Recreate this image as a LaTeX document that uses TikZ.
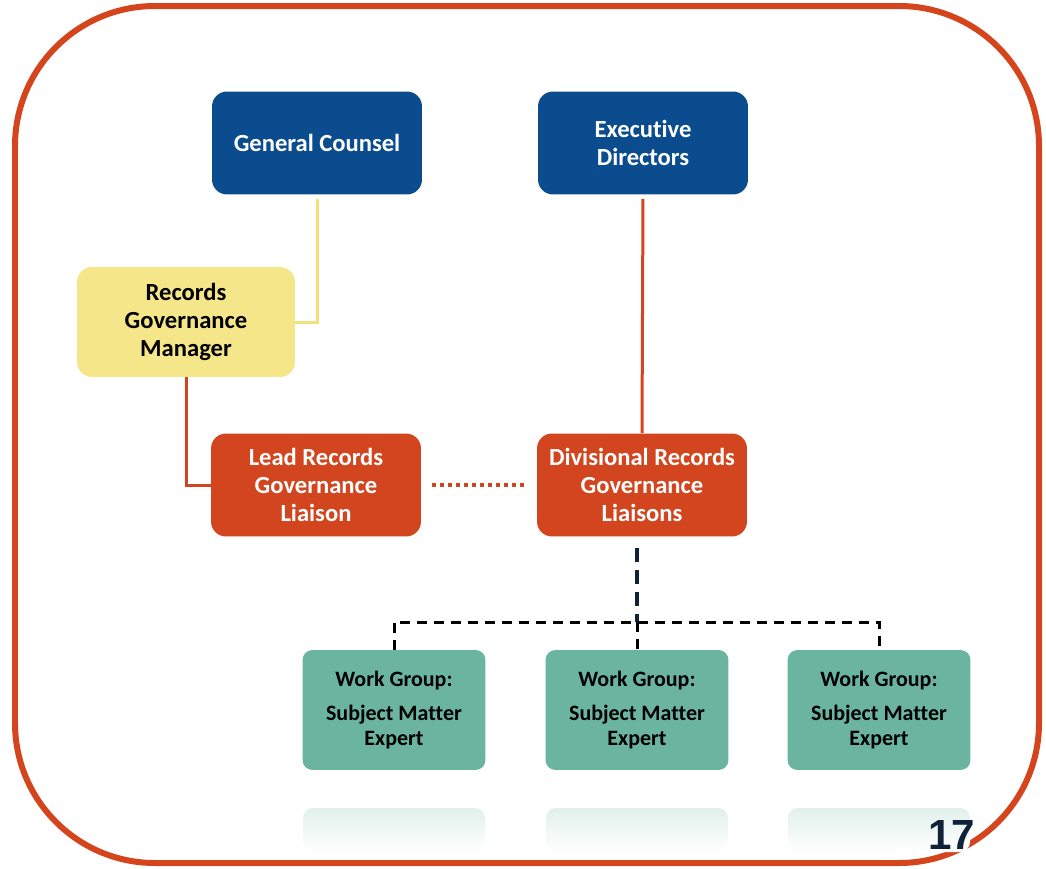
\documentclass[tikz,border=0pt]{standalone}
\usepackage{fontspec}
\setmainfont{Carlito}[Ligatures=NoCommon]
\newfontfamily\numfont{Liberation Sans}
\usepackage{xcolor}
\definecolor{govBlue}{HTML}{0B4C8E}
\definecolor{govYellow}{HTML}{F6E68A}
\definecolor{govYellowLine}{HTML}{F4E07A}
\definecolor{govRed}{HTML}{D2451E}
\definecolor{govTeal}{HTML}{6AB4A0}
\definecolor{govNavy}{HTML}{0F2238}
\definecolor{govFrame}{HTML}{D4451E}
\usepackage{tikz}
\usetikzlibrary{positioning}

\begin{document}
\begin{tikzpicture}[
		x=0.02cm, y=-0.02cm,
		box/.style={
			rounded corners=0.3cm,
			minimum width=4.2cm,
			minimum height=2.06cm,
			align=center,
			font=\fontsize{14}{16}\selectfont\bfseries
		},
		wgbox/.style={
			box,
			fill=govTeal,
			minimum width=3.66cm,
			minimum height=2.4cm,
			rounded corners=0.2cm,
			font=\fontsize{12.5}{14.2}\selectfont\bfseries
		},
		yline/.style={draw=govYellowLine, line width=0.06cm},
		rline/.style={draw=govRed, line width=0.06cm},
		dotline/.style={draw=govRed, line width=0.07cm, dash pattern=on 0.08cm off 0.08cm},
		navydash/.style={draw=govNavy, line width=0.08cm, dash pattern=on 0.28cm off 0.16cm},
		bkdash/.style={draw=black, line width=0.06cm, dash pattern=on 0.2cm off 0.14cm}
		]
		
		\useasboundingbox (0,0) rectangle (1046,869);
		\draw[govFrame, line width=0.12cm, rounded corners=2.8cm] (15,6) rectangle (1039,863);
		
		\node[box, fill=govBlue, text=white] (counsel) at (317,143) {General Counsel};
		\node[box, fill=govBlue, text=white] (exec) at (643,143) {Executive\\Directors};
		\node[box, fill=govYellow, minimum width=4.36cm, minimum height=2.2cm] (rgm) at (186,322) {Records\\Governance\\Manager};
		\node[box, fill=govRed, text=white] (lead) at (316,485) {Lead Records\\Governance\\Liaison};
		\node[box, fill=govRed, text=white] (div) at (642,485) {Divisional Records\\Governance\\Liaisons};
		
		\node[wgbox] (wg1) at (394,710) {Work Group:\\[5pt]Subject Matter\\Expert};
		\node[wgbox] (wg2) at (637,710) {Work Group:\\[5pt]Subject Matter\\Expert};
		\node[wgbox] (wg3) at (879,710) {Work Group:\\[5pt]Subject Matter\\Expert};
		
		% faint reflections below the work groups
		\foreach \cx in {394,637,879}
			\shade[top color=govTeal!20, bottom color=white, rounded corners=0.2cm] (\cx-91,808) rectangle (\cx+91,852);
		
		\coordinate (bus) at (637,622);
		
		\draw[yline, shorten <=0.08cm] (counsel.south) |- (rgm.east);
		\draw[rline, shorten <=0.08cm] (exec.south) -- (div.north);
		\draw[rline] (rgm.south) |- (lead.west);
		\draw[dotline, shorten <=0.22cm, shorten >=0.24cm] (lead.east) -- (div.west);
		\draw[navydash, shorten <=0.22cm] (bus |- div.south) -- (bus);
		\draw[bkdash] (wg1.north) |- (bus) -| (wg3.north);
		\draw[bkdash] (bus) -- (wg2.north);
		
		\node[font=\numfont\fontsize{24}{24}\selectfont\bfseries, text=govNavy] (page) at (952,835) {17};
		
	\end{tikzpicture}
\end{document}
